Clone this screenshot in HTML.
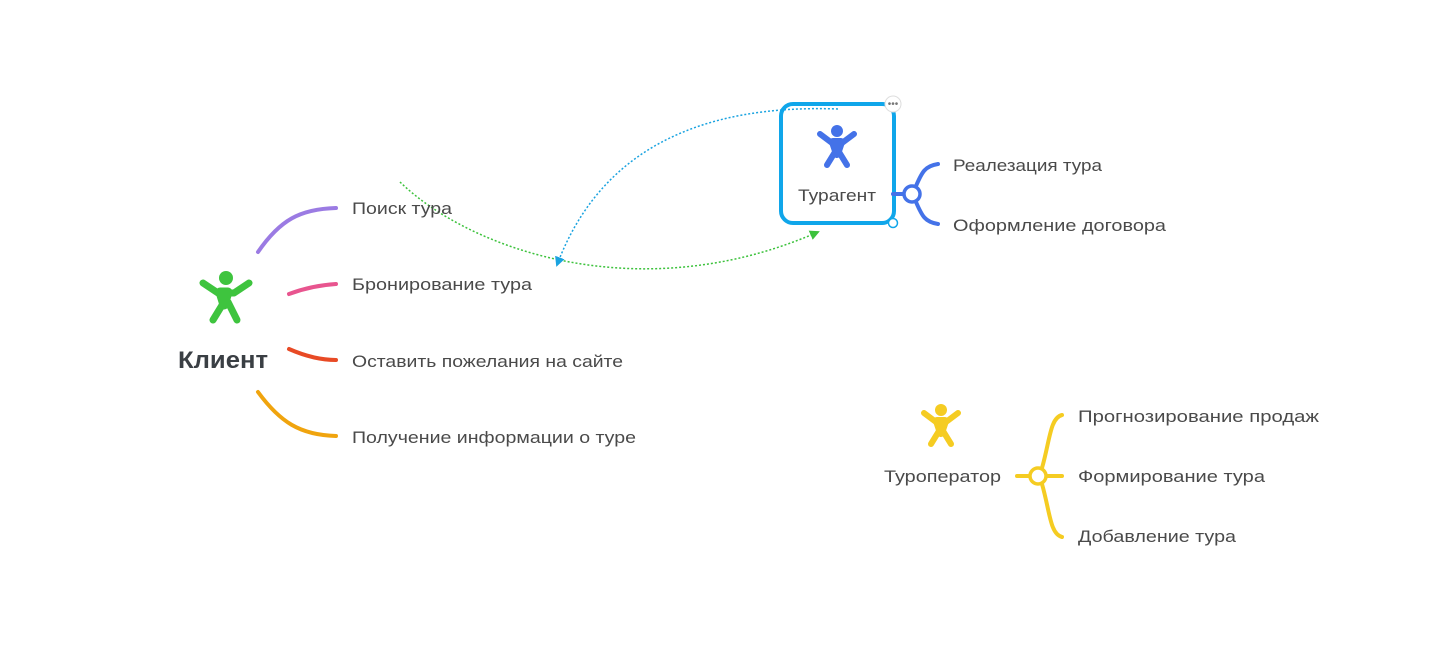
<!DOCTYPE html>
<html><head><meta charset="utf-8"><style>
body{margin:0;background:#fff;}
svg{display:block;font-family:"Liberation Sans","DejaVu Sans",sans-serif;}
text{fill:#4a4a4a;font-size:17px;}
</style></head><body>
<svg width="1450" height="672" viewBox="0 0 1450 672">
<defs>
<marker id="ag" markerWidth="10" markerHeight="10" refX="8" refY="5" orient="auto" markerUnits="userSpaceOnUse"><path d="M0,0 L10,5 L0,10 Z" fill="#3cc23c"/></marker>
<marker id="ab" markerWidth="10" markerHeight="10" refX="8" refY="5" orient="auto" markerUnits="userSpaceOnUse"><path d="M0,0 L10,5 L0,10 Z" fill="#1aa3e0"/></marker>
</defs>
<path d="M400,182 C470,250 640,310 818,232" fill="none" stroke="#3cc23c" stroke-width="1.5" stroke-dasharray="2,2" marker-end="url(#ag)"/>
<path d="M838,109 C700,104 600,150 557,265" fill="none" stroke="#1aa3e0" stroke-width="1.5" stroke-dasharray="2,2" marker-end="url(#ab)"/>

<g stroke="#3ec43e" stroke-linecap="round" fill="none">
<circle cx="226" cy="278" r="7" fill="#3ec43e" stroke="none"/>
<path d="M203,283 L218,293 L234,293 L249,283" stroke-width="7" stroke-linejoin="round"/>
<path d="M220,292 L224,305 L228,292 Z" stroke-width="9" stroke-linejoin="round" fill="#3ec43e"/>
<path d="M224,302 L213,320 M228,302 L237,320" stroke-width="7"/>
</g>
<text x="178" y="368" textLength="90" lengthAdjust="spacingAndGlyphs" style="font-size:24px;font-weight:bold;fill:#3a3f44">Клиент</text>
<g fill="none" stroke-width="4" stroke-linecap="round">
<path d="M258,252 C280,220 300,209 336,208" stroke="#9b7be3"/>
<path d="M289,294 C305,288 320,285 336,284" stroke="#e8558f"/>
<path d="M289,349 C305,356 320,360 336,360" stroke="#e84a25"/>
<path d="M258,392 C280,422 300,435 336,436" stroke="#f0a40e"/>
</g>
<text x="352" y="214" textLength="100" lengthAdjust="spacingAndGlyphs">Поиск тура</text>
<text x="352" y="290" textLength="180" lengthAdjust="spacingAndGlyphs">Бронирование тура</text>
<text x="352" y="367" textLength="271" lengthAdjust="spacingAndGlyphs">Оставить пожелания на сайте</text>
<text x="352" y="443" textLength="284" lengthAdjust="spacingAndGlyphs">Получение информации о туре</text>

<rect x="781" y="104" width="113" height="119" rx="12" fill="none" stroke="#10a6ea" stroke-width="4"/>
<circle cx="893" cy="104" r="8" fill="#fff" stroke="#ddd"/>
<text x="893" y="107" text-anchor="middle" style="font-size:10px;fill:#777">•••</text>
<circle cx="893" cy="223" r="4.5" fill="#fff" stroke="#10a6ea" stroke-width="1.5"/>
<g stroke="#4472e8" stroke-linecap="round" fill="none">
<circle cx="837" cy="131" r="6" fill="#4472e8" stroke="none"/>
<path d="M820,134 L832,143 L842,143 L854,134" stroke-width="6" stroke-linejoin="round"/>
<path d="M833,142 L837,154 L841,142 Z" stroke-width="8" stroke-linejoin="round" fill="#4472e8"/>
<path d="M835,152 L827,165 M839,152 L847,165" stroke-width="6"/>
</g>
<text x="798" y="201" textLength="78" lengthAdjust="spacingAndGlyphs">Турагент</text>
<g fill="none" stroke="#4472e8" stroke-width="4" stroke-linecap="round">
<path d="M893,194 L904,194"/>
<path d="M916,186 C922,172 925,166 938,164"/>
<path d="M916,202 C922,216 925,222 938,224"/>
<circle cx="912" cy="194" r="8" stroke-width="3.5" fill="#fff"/>
</g>
<text x="953" y="171" textLength="149" lengthAdjust="spacingAndGlyphs">Реалезация тура</text>
<text x="953" y="231" textLength="213" lengthAdjust="spacingAndGlyphs">Оформление договора</text>

<g stroke="#f5cc22" stroke-linecap="round" fill="none">
<circle cx="941" cy="410" r="6" fill="#f5cc22" stroke="none"/>
<path d="M924,413 L936,422 L946,422 L958,413" stroke-width="6" stroke-linejoin="round"/>
<path d="M937,421 L941,433 L945,421 Z" stroke-width="8" stroke-linejoin="round" fill="#f5cc22"/>
<path d="M939,431 L931,444 M943,431 L951,444" stroke-width="6"/>
</g>
<text x="884" y="482" textLength="117" lengthAdjust="spacingAndGlyphs">Туроператор</text>
<g fill="none" stroke="#f5cc22" stroke-width="4" stroke-linecap="round">
<path d="M1017,476 L1030,476"/>
<path d="M1046,476 L1062,476"/>
<path d="M1042,468 C1050,440 1050,418 1062,415"/>
<path d="M1042,484 C1050,512 1050,534 1062,537"/>
<circle cx="1038" cy="476" r="8" stroke-width="3.5" fill="#fff"/>
</g>
<text x="1078" y="422" textLength="241" lengthAdjust="spacingAndGlyphs">Прогнозирование продаж</text>
<text x="1078" y="482" textLength="187" lengthAdjust="spacingAndGlyphs">Формирование тура</text>
<text x="1078" y="542" textLength="158" lengthAdjust="spacingAndGlyphs">Добавление тура</text>
</svg>
</body></html>
